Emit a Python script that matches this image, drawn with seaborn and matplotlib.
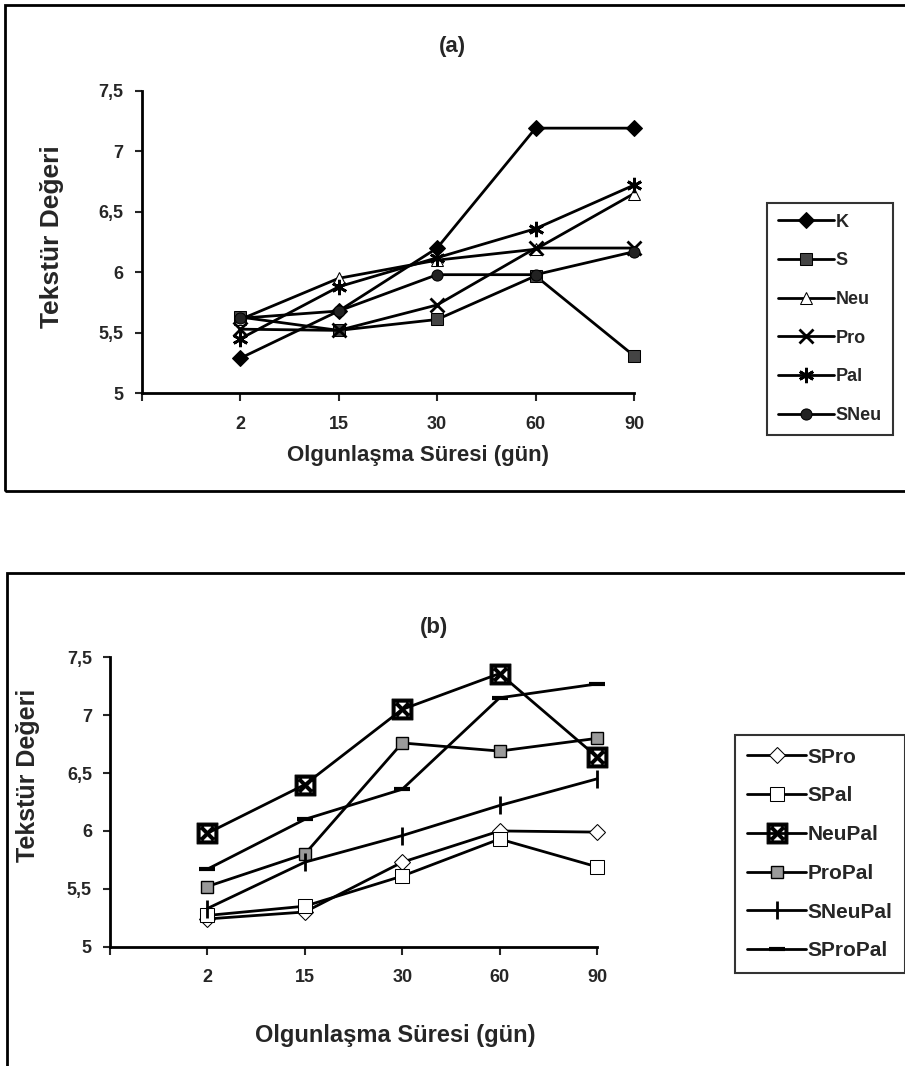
import numpy as np
import matplotlib
matplotlib.use("Agg")
import matplotlib.pyplot as plt
from matplotlib.patches import Rectangle
from matplotlib.ticker import FuncFormatter
import seaborn as sns

sns.set_style("white")
plt.rcParams['font.family'] = ['Liberation Sans', 'DejaVu Sans']
plt.rcParams['font.weight'] = 'bold'

days = ["2", "15", "30", "60", "90"]

# panel (a)
K = [5.29, 5.68, 6.20, 7.19, 7.19]
S = [5.63, 5.52, 5.61, 5.97, 5.31]
Neu = [5.61, 5.95, 6.10, 6.19, 6.65]
Pro = [5.53, 5.52, 5.73, 6.20, 6.20]
Pal = [5.45, 5.88, 6.12, 6.36, 6.72]
SNeu = [5.62, 5.68, 5.98, 5.98, 6.17]

# panel (b)
SPro = [5.24, 5.30, 5.73, 6.00, 5.99]
SPal = [5.27, 5.35, 5.61, 5.93, 5.69]
NeuPal = [5.98, 6.40, 7.05, 7.36, 6.64]
ProPal = [5.52, 5.80, 6.76, 6.69, 6.80]
SNeuPal = [5.33, 5.73, 5.96, 6.22, 6.45]
SProPal = [5.67, 6.10, 6.36, 7.15, 7.27]

series_a = [
    ("K", K, dict(marker="D", markersize=8, markerfacecolor="black")),
    ("S", S, dict(marker="s", markersize=8, markerfacecolor="#444444")),
    ("Neu", Neu, dict(marker="^", markersize=9, markerfacecolor="white")),
    ("Pro", Pro, dict(marker="x", markersize=10, markeredgewidth=2)),
    ("Pal", Pal, dict(marker=(6, 2, 0), markersize=11, markeredgewidth=2)),
    ("SNeu", SNeu, dict(marker="o", markersize=8, markerfacecolor="#222222")),
]
series_b = [
    ("SPro", SPro, dict(marker="D", markersize=8, markerfacecolor="white")),
    ("SPal", SPal, dict(marker="s", markersize=10, markerfacecolor="white")),
    ("NeuPal", NeuPal, dict(marker=r"$\boxtimes$", markersize=15)),
    ("ProPal", ProPal, dict(marker="s", markersize=8, markerfacecolor="#9a9a9a", markeredgewidth=1)),
    ("SNeuPal", SNeuPal, dict(marker="|", markersize=13, markeredgewidth=2)),
    ("SProPal", SProPal, dict(marker="_", markersize=11, markeredgewidth=3)),
]

fig = plt.figure(figsize=(9.05, 10.66), dpi=100)

# panel frames
fig.patches.append(Rectangle((0.0055, 0.5394), 1.2, 0.456, transform=fig.transFigure,
                             fill=False, edgecolor="black", linewidth=2))
fig.patches.append(Rectangle((0.0075, -0.05), 1.2, 0.5125, transform=fig.transFigure,
                             fill=False, edgecolor="black", linewidth=2))

comma = FuncFormatter(lambda v, p: ("%g" % v).replace(".", ","))


def draw(ax, series, legend_anchor, legsize, handlelen, spacing):
    x = np.arange(len(days))
    for name, vals, kw in series:
        sns.lineplot(x=x, y=vals, ax=ax, color="black", linewidth=2,
                     markeredgecolor="black", label=name, clip_on=False, **kw)
    ax.set_xlim(-1, len(days) - 1)
    ax.set_ylim(5, 7.5)
    ax.set_xticks(np.arange(-1, len(days)))
    ax.set_xticklabels([""] + days)
    ax.set_yticks(np.arange(5, 7.51, 0.5))
    ax.yaxis.set_major_formatter(comma)
    for s in ["top", "right"]:
        ax.spines[s].set_visible(False)
    for s in ["left", "bottom"]:
        ax.spines[s].set_linewidth(2)
        ax.spines[s].set_color("black")
    ax.tick_params(axis="x", direction="out", length=6, width=1.5, pad=10, labelsize=13)
    ax.tick_params(axis="y", direction="out", length=5, width=1.5, pad=8, labelsize=13)
    ax.tick_params(bottom=True, left=True)
    ax.set_xlabel("")
    ax.set_ylabel("")
    ax.get_legend().remove()
    h, l = ax.get_legend_handles_labels()
    leg = fig.legend(h, l, loc="upper left", bbox_to_anchor=legend_anchor,
                     frameon=True, fancybox=False, edgecolor="black",
                     fontsize=legsize, handlelength=handlelen, labelspacing=spacing,
                     handletextpad=0.1, borderpad=0.6, borderaxespad=0)
    leg.get_frame().set_linewidth(1.5)
    for t in leg.get_texts():
        t.set_fontweight("bold")


ax1 = fig.add_axes([0.1566, 0.631, 0.544, 0.284])
draw(ax1, series_a, (0.8475, 0.8096), 13, 3.1, 1.2)
fig.text(0.4995, 0.956, "(a)", ha="center", va="center", fontsize=16, fontweight="bold")
fig.text(0.0575, 0.7777, "Tekstür Değeri", rotation=90, ha="center", va="center",
         fontsize=19, fontweight="bold")
fig.text(0.462, 0.573, "Olgunlaşma Süresi (gün)", ha="center", va="center",
         fontsize=16, fontweight="bold")

ax2 = fig.add_axes([0.1215, 0.1119, 0.5382, 0.2715])
draw(ax2, series_b, (0.812, 0.3105), 15, 2.8, 0.95)
fig.text(0.48, 0.411, "(b)", ha="center", va="center", fontsize=16, fontweight="bold")
fig.text(0.031, 0.273, "Tekstür Değeri", rotation=90, ha="center", va="center",
         fontsize=18, fontweight="bold")
fig.text(0.4365, 0.029, "Olgunlaşma Süresi (gün)", ha="center", va="center",
         fontsize=17, fontweight="bold")

fig.savefig("out.png", dpi=100)
